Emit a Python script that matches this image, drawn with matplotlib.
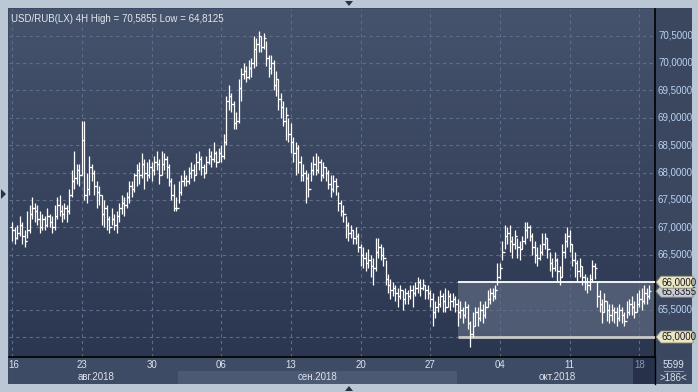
import numpy as np
import matplotlib
matplotlib.use("Agg")
import matplotlib.pyplot as plt
from matplotlib.patches import Rectangle, Polygon
from matplotlib.colors import LinearSegmentedColormap
import matplotlib.transforms as mtransforms

plt.rcParams["font.family"] = ["Liberation Sans", "DejaVu Sans"]

# ---- data: 4H bars USD/RUB ----
closes = [
    66.95, 66.80, 66.90, 67.05, 66.85, 66.75, 66.95, 67.25, 67.35, 67.30,
    67.15, 67.00, 67.15, 67.05, 67.20, 67.10, 67.00, 67.20, 67.40, 67.30,
    67.25, 67.35, 67.30, 67.60, 67.85, 67.90, 68.05, 67.95, 68.60, 67.60,
    67.70, 68.10, 68.00, 67.75, 67.65, 67.60, 67.25, 67.35, 67.15, 67.00,
    67.15, 67.05, 67.20, 67.35, 67.45, 67.40, 67.55, 67.75, 67.70, 67.95,
    68.05, 67.95, 68.15, 68.00, 67.95, 68.10, 68.05, 68.20, 68.15, 67.95,
    68.15, 68.25, 68.10, 67.85, 67.60, 67.35, 67.35, 67.65, 67.85, 67.90,
    67.85, 68.00, 68.05, 67.95, 68.20, 68.25, 68.10, 68.00, 68.20, 68.30,
    68.25, 68.35, 68.20, 68.35, 68.30, 68.55, 69.30, 69.40, 69.25, 68.90,
    68.95, 69.55, 69.80, 69.85, 69.75, 69.90, 70.00, 70.25, 70.35, 70.50,
    70.30, 70.45, 70.10, 69.90, 70.00, 69.60, 69.70, 69.35, 69.20, 68.95,
    69.05, 68.70, 68.55, 68.35, 68.45, 68.20, 67.95, 68.00, 67.90, 67.70,
    68.05, 68.15, 68.05, 68.20, 67.95, 68.10, 68.00, 67.80, 67.70, 67.85,
    67.75, 67.45, 67.30, 67.25, 67.05, 66.90, 66.95, 66.80, 66.85, 66.65,
    66.50, 66.45, 66.35, 66.40, 66.30, 66.25, 66.55, 66.65, 66.50, 66.45,
    66.05, 65.95, 65.85, 65.90, 65.80, 65.75, 65.85, 65.70, 65.80, 65.75,
    65.85, 65.80, 65.90, 66.00, 65.90, 65.95, 65.85, 65.80, 65.70, 65.45,
    65.55, 65.60, 65.75, 65.65, 65.55, 65.75, 65.65, 65.70, 65.60, 65.45,
    65.50, 65.40, 65.55, 65.25, 65.05, 65.20, 65.45, 65.35, 65.50, 65.40,
    65.55, 65.70, 65.80, 65.75, 65.85, 66.10, 66.25, 66.55, 66.85, 66.90,
    66.75, 66.70, 66.85, 66.65, 66.60, 66.75, 66.95, 67.00, 66.85, 66.65,
    66.50, 66.45, 66.55, 66.70, 66.80, 66.60, 66.35, 66.25, 66.40, 66.20,
    66.10, 66.55, 66.75, 66.85, 66.70, 66.40, 66.35, 66.20, 66.30, 66.10,
    66.00, 65.95, 66.05, 66.30, 66.25, 65.75, 65.60, 65.45, 65.65, 65.50,
    65.40, 65.50, 65.45, 65.35, 65.50, 65.40, 65.30, 65.45, 65.60, 65.55,
    65.45, 65.60, 65.70, 65.65, 65.80, 65.75, 65.84,
]
highs = [
    67.10, 67.00, 67.05, 67.20, 67.10, 66.95, 67.30, 67.40, 67.55, 67.45,
    67.40, 67.30, 67.25, 67.20, 67.35, 67.25, 67.20, 67.40, 67.55, 67.60,
    67.40, 67.45, 67.40, 67.70, 68.05, 68.40, 68.15, 68.15, 68.95, 68.95,
    68.00, 68.30, 68.15, 68.05, 67.85, 67.75, 67.60, 67.50, 67.40, 67.20,
    67.35, 67.25, 67.30, 67.45, 67.60, 67.55, 67.65, 67.85, 67.85, 68.00,
    68.15, 68.20, 68.35, 68.25, 68.20, 68.25, 68.20, 68.30, 68.40, 68.25,
    68.40, 68.35, 68.30, 68.15, 67.90, 67.80, 67.55, 67.85, 67.95, 68.05,
    67.95, 68.10, 68.20, 68.15, 68.35, 68.40, 68.30, 68.15, 68.30, 68.45,
    68.40, 68.55, 68.40, 68.45, 68.50, 68.70, 69.40, 69.60, 69.45, 69.30,
    69.10, 69.70, 69.90, 70.00, 69.95, 70.05, 70.10, 70.50, 70.45, 70.59,
    70.50, 70.55, 70.40, 70.15, 70.15, 70.05, 69.85, 69.70, 69.45, 69.30,
    69.20, 69.00, 68.90, 68.65, 68.55, 68.50, 68.30, 68.15, 68.05, 68.00,
    68.20, 68.30, 68.35, 68.30, 68.25, 68.20, 68.10, 68.05, 67.95, 67.95,
    67.90, 67.65, 67.50, 67.40, 67.20, 67.10, 67.05, 66.95, 67.00, 66.90,
    66.70, 66.65, 66.55, 66.60, 66.50, 66.45, 66.80, 66.80, 66.70, 66.65,
    66.40, 66.15, 66.05, 66.00, 65.95, 65.90, 65.95, 65.85, 65.90, 65.85,
    65.95, 65.95, 66.00, 66.10, 66.05, 66.05, 65.95, 65.95, 65.85, 65.80,
    65.65, 65.75, 65.85, 65.80, 65.90, 65.85, 65.80, 65.80, 65.75, 65.70,
    65.65, 65.55, 65.65, 65.60, 65.30, 65.45, 65.55, 65.55, 65.65, 65.60,
    65.65, 65.85, 65.90, 65.90, 65.95, 66.35, 66.35, 66.75, 67.05, 67.00,
    67.05, 66.85, 66.95, 66.80, 66.75, 66.85, 67.10, 67.10, 67.05, 66.90,
    66.75, 66.65, 66.70, 66.90, 66.90, 66.80, 66.55, 66.45, 66.55, 66.45,
    66.30, 66.70, 66.90, 67.00, 66.95, 66.70, 66.55, 66.40, 66.45, 66.30,
    66.15, 66.10, 66.15, 66.40, 66.35, 66.00, 65.85, 65.70, 65.80, 65.65,
    65.60, 65.60, 65.55, 65.55, 65.60, 65.55, 65.45, 65.65, 65.70, 65.75,
    65.65, 65.80, 65.85, 65.90, 65.95, 65.90, 65.95,
]
lows = [
    66.75, 66.70, 66.78, 66.85, 66.70, 66.65, 66.80, 66.90, 67.15, 67.10,
    67.05, 66.90, 66.95, 66.95, 67.00, 67.00, 66.90, 66.95, 67.15, 67.20,
    67.10, 67.15, 67.10, 67.25, 67.55, 67.70, 67.80, 67.75, 67.95, 67.50,
    67.45, 67.60, 67.85, 67.60, 67.35, 67.40, 67.05, 67.00, 66.95, 66.90,
    67.05, 66.95, 66.90, 67.10, 67.25, 67.20, 67.35, 67.45, 67.55, 67.65,
    67.75, 67.80, 67.90, 67.70, 67.85, 67.90, 67.85, 67.95, 68.05, 67.80,
    67.95, 68.05, 67.90, 67.75, 67.50, 67.30, 67.30, 67.45, 67.60, 67.75,
    67.75, 67.80, 67.90, 67.85, 67.95, 68.05, 67.95, 67.90, 68.00, 68.15,
    68.10, 68.20, 68.10, 68.20, 68.20, 68.25, 68.50, 69.15, 69.10, 68.80,
    68.80, 68.90, 69.30, 69.70, 69.65, 69.70, 69.75, 69.90, 69.95, 70.20,
    70.20, 70.25, 69.95, 69.75, 69.80, 69.50, 69.40, 69.15, 69.00, 68.85,
    68.60, 68.55, 68.35, 68.20, 67.95, 68.00, 67.85, 67.85, 67.45, 67.55,
    67.85, 67.95, 67.95, 68.00, 67.85, 67.90, 67.85, 67.70, 67.55, 67.65,
    67.60, 67.30, 67.20, 67.10, 66.80, 66.75, 66.80, 66.70, 66.70, 66.55,
    66.30, 66.25, 66.20, 66.25, 66.10, 65.95, 66.20, 66.45, 66.40, 66.30,
    65.95, 65.80, 65.70, 65.75, 65.65, 65.55, 65.70, 65.50, 65.60, 65.60,
    65.70, 65.55, 65.75, 65.80, 65.75, 65.85, 65.70, 65.70, 65.55, 65.20,
    65.35, 65.45, 65.55, 65.45, 65.45, 65.55, 65.50, 65.55, 65.45, 65.20,
    65.35, 65.25, 65.35, 65.15, 64.81, 65.00, 65.20, 65.20, 65.30, 65.25,
    65.35, 65.55, 65.60, 65.65, 65.70, 65.95, 66.05, 66.40, 66.60, 66.70,
    66.55, 66.45, 66.60, 66.45, 66.40, 66.60, 66.70, 66.80, 66.75, 66.50,
    66.35, 66.30, 66.40, 66.50, 66.60, 66.45, 66.20, 66.10, 66.20, 66.00,
    65.95, 66.10, 66.45, 66.65, 66.55, 66.30, 66.10, 66.00, 66.10, 65.95,
    65.85, 65.80, 65.85, 66.00, 66.05, 65.55, 65.45, 65.25, 65.45, 65.30,
    65.25, 65.30, 65.25, 65.20, 65.30, 65.25, 65.20, 65.35, 65.40, 65.40,
    65.35, 65.45, 65.55, 65.50, 65.60, 65.60, 65.70,
]
first_open = 67.00

day_labels = ["16", "23", "30", "06", "13", "20", "27", "04", "11", "18"]
day_pos = [0, 28, 56, 84, 112, 140, 168, 196, 224, 252]
month_labels = ["авг.2018", "сен.2018", "окт.2018"]
month_pos = [33.5, 122.5, 219]
price_ticks = [65.0, 65.5, 66.0, 66.5, 67.0, 67.5, 68.0, 68.5, 69.0, 69.5, 70.0, 70.5]
range_low, range_high = 65.0, 66.0
range_start = 179
last_price = 65.8355
title = "USD/RUB(LX) 4H High = 70,5855 Low = 64,8125"

W, H = 698, 392
FS = 7.0


def frac(x0, y0, x1, y1):
    """pixel box (top-left origin) -> figure fraction rect"""
    return [x0 / W, 1 - y1 / H, (x1 - x0) / W, (y1 - y0) / H]


def fmt(v):
    return f"{v:.4f}".replace(".", ",")


fig = plt.figure(figsize=(W / 100, H / 100), dpi=100, facecolor="#bcc7d5")


def panel(x0, y0, x1, y1, color, z=-5):
    r = frac(x0, y0, x1, y1)
    fig.patches.append(Rectangle((r[0], r[1]), r[2], r[3], transform=fig.transFigure,
                                 facecolor=color, edgecolor="none", zorder=z))


panel(8, 8, 692, 384, "#3c4962")        # whole chart block
panel(9, 358, 655, 384, "#3e4b65")      # date strip
panel(178, 371, 457, 384, "#4c5973")    # september shading
panel(633, 358, 655, 384, "#27314a")    # current period box
panel(656, 8, 692, 358, "#3a475f")      # price axis panel

ax = fig.add_axes(frac(9, 9, 655, 357))
ax.set_zorder(1)
xmin, xmax = -1.3, 258.3
ymin, ymax = 64.635, 70.985
ax.set_xlim(xmin, xmax)
ax.set_ylim(ymin, ymax)

# background gradient
cmap = LinearSegmentedColormap.from_list("bg", ["#2b3650", "#46536c"])
grad = np.linspace(0, 1, 256).reshape(-1, 1)
ax.imshow(grad, cmap=cmap, aspect="auto", extent=[xmin, xmax, ymin, ymax],
          origin="lower", zorder=0)

ax.set_xticks(day_pos)
ax.set_yticks(price_ticks)
ax.grid(True, color="#5d6d8a", linestyle=(0, (3, 3)), linewidth=0.8, zorder=0.5)
ax.tick_params(length=0, labelbottom=False, labelleft=False)
for s in ["top", "left"]:
    ax.spines[s].set_visible(False)
for s in ["right", "bottom"]:
    ax.spines[s].set_color("black")
    ax.spines[s].set_linewidth(1.2)

# range box
ax.add_patch(Rectangle((range_start, range_low), xmax - range_start, range_high - range_low,
                       facecolor="#7a869c", alpha=0.45, edgecolor="none", zorder=1))
ax.hlines(range_high, range_start, xmax, color="white", linewidth=1.3, zorder=3)
ax.hlines(range_low, range_start, xmax, color="#c9c9c9", linewidth=2.0, zorder=3)

# OHLC bars
idx = np.arange(len(closes))
opens = [first_open] + closes[:-1]
ax.vlines(idx, lows, highs, color="white", linewidth=0.9, zorder=4)
ax.hlines(opens, idx - 0.75, idx, color="white", linewidth=0.9, zorder=4)
ax.hlines(closes, idx, idx + 0.75, color="white", linewidth=0.9, zorder=4)

# title
ax.text(0.003, 0.985, title, transform=ax.transAxes, ha="left", va="top",
        fontsize=FS, color="#e3e7ee", zorder=6)

# price axis labels
label_trans = mtransforms.blended_transform_factory(fig.transFigure, ax.transData)
for v in price_ticks:
    if v in (range_low, range_high):
        continue
    fig.text(658 / W, v, fmt(v), transform=label_trans, ha="left", va="center",
             fontsize=FS, color="#b9d2f2")


def tag(v, text, color, z):
    y = H - (ymin and (v - ymin) / (ymax - ymin) * (357 - 9))  # height above plot bottom
    yp = 357 - (v - ymin) / (ymax - ymin) * (357 - 9)
    pts = [(656, yp), (661, yp - 6), (693, yp - 6), (693, yp + 6), (661, yp + 6)]
    fig.patches.append(Polygon([(px / W, 1 - py / H) for px, py in pts], closed=True,
                               transform=fig.transFigure, facecolor=color,
                               edgecolor="#8a8a70", linewidth=0.6, zorder=z))
    fig.text(661 / W, v, text, transform=label_trans, ha="left", va="center",
             fontsize=FS, color="#1a1a1a", zorder=z + 1)


tag(last_price, fmt(last_price), "#c7ccd8", 5)
tag(range_high, fmt(range_high), "#ebe7c6", 7)
tag(range_low, fmt(range_low), "#ebe7c6", 7)

# date strip labels
date_trans = mtransforms.blended_transform_factory(ax.transData, fig.transFigure)
for p, lab in zip(day_pos, day_labels):
    col = "#8a97ad" if lab == "18" else "#dde3ec"
    xoff = 0.6 if p == 0 else 0
    fig.text(p + xoff, 1 - 365 / H, lab, transform=date_trans, ha="center",
             va="center", fontsize=FS, color=col)
for p, lab in zip(month_pos, month_labels):
    fig.text(p, 1 - 377 / H, lab, transform=date_trans, ha="center",
             va="center", fontsize=FS, color="#dde3ec")

# bottom-right counter
fig.text(673 / W, 1 - 365 / H, "5599", ha="center", va="center", fontsize=FS, color="#dde3ec")
fig.text(673 / W, 1 - 378 / H, ">186<", ha="center", va="center", fontsize=FS, color="#dde3ec")
fig.lines.append(plt.Line2D([664 / W, 683 / W], [1 - 371 / H] * 2, transform=fig.transFigure,
                            color="#9aa6b8", linewidth=0.6))
fig.lines.append(plt.Line2D([655 / W] * 2, [1 - 357 / H, 1 - 384 / H], transform=fig.transFigure,
                            color="black", linewidth=1.0))


def tri(pts, color="#27324a"):
    fig.patches.append(Polygon([(px / W, 1 - py / H) for px, py in pts], closed=True,
                               transform=fig.transFigure, facecolor=color,
                               edgecolor="none", zorder=10))


tri([(345, 1), (353, 1), (349, 6)])
tri([(345, 391), (353, 391), (349, 386)])
tri([(1, 189), (1, 199), (6, 194)])

fig.savefig("out.png", dpi=100, facecolor=fig.get_facecolor())
